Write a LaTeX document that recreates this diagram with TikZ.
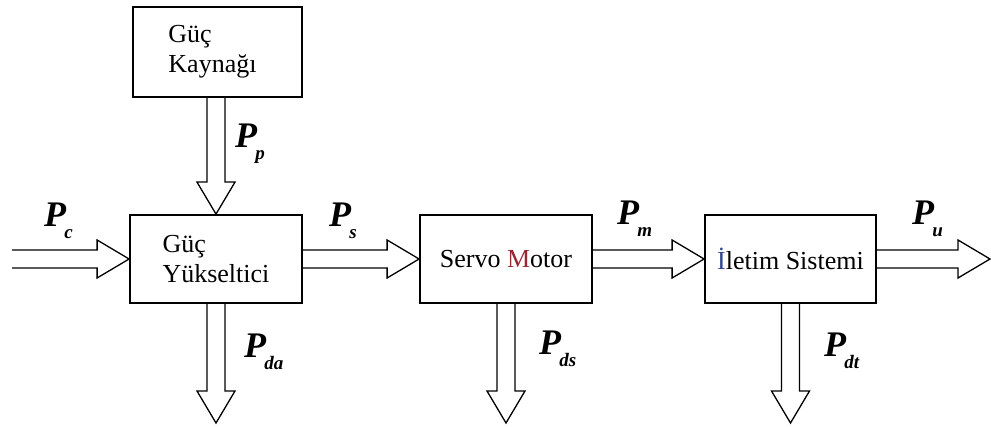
\documentclass[tikz,border=0pt]{standalone}
\usepackage{fontspec}
\setmainfont{Liberation Serif}
\usetikzlibrary{calc}
\newcommand\plab[1]{\fontsize{36}{36}\selectfont\bfseries\itshape P\kern-0.05em\raisebox{-0.33em}{\fontsize{19}{19}\selectfont #1}}
\newcommand\harr[2]{\draw[hol] let \p1=(#1), \p2=(#2) in (\x1,\y1+9pt) -- (\x2-32pt,\y1+9pt) -- (\x2-32pt,\y1+19pt) -- (\x2,\y1) -- (\x2-32pt,\y1-19pt) -- (\x2-32pt,\y1-9pt) -- (\x1,\y1-9pt);}
\newcommand\varr[2]{\draw[hol] let \p1=(#1), \p2=(#2) in (\x1+9pt,\y1) -- (\x1+9pt,\y2+32pt) -- (\x1+19pt,\y2+32pt) -- (\x1,\y2) -- (\x1-19pt,\y2+32pt) -- (\x1-9pt,\y2+32pt) -- (\x1-9pt,\y1);}
\begin{document}
\begin{tikzpicture}[x=1pt,y=-1pt,
  box/.style={draw, line width=1.8pt, font=\fontsize{26}{30}\selectfont, align=left, inner sep=0pt, minimum height=88pt},
  hol/.style={line width=1.3pt, line join=miter},
  lab/.style={anchor=base west, inner sep=0pt}]
\useasboundingbox[fill=white] (0,0) rectangle (991,427);
\node[box, minimum width=169pt, minimum height=90pt] (kay) at (217.5,52) {Güç\\Kaynağı\hspace*{10pt}};
\node[box, minimum width=172pt] (amp) at (216,259) {Güç\\Yükseltici};
\node[box, minimum width=172pt] (servo) at (506,259) {Servo {\color[RGB]{150,40,50}M}otor};
\node[box, minimum width=171pt] (ilt) at (790.5,259) {{\color[RGB]{50,70,150}İ}letim Sistemi};
\coordinate (cin) at (12,259);
\coordinate (cout) at (990,259);
\coordinate (bot) at (0,423);
\harr{cin}{amp.west}
\harr{amp.east}{servo.west}
\harr{servo.east}{ilt.west}
\harr{ilt.east}{cout}
\varr{kay.south -| amp.north}{amp.north}
\varr{amp.south}{amp.south |- bot}
\varr{servo.south}{servo.south |- bot}
\varr{ilt.south}{ilt.south |- bot}
\node[lab] (lp) at (235,148) {\plab{p}};
\node[lab] (lc) at (44,227) {\plab{c}};
\node[lab] (ls) at (329,227) {\plab{s}};
\node[lab] (lm) at (617,225) {\plab{m}};
\node[lab] (lu) at (912,225) {\plab{u}};
\node[lab] (lda) at (244,358) {\plab{da}};
\node[lab] (lds) at (539,355) {\plab{ds}};
\node[lab] (ldt) at (824,357) {\plab{dt}};
\end{tikzpicture}
\end{document}
